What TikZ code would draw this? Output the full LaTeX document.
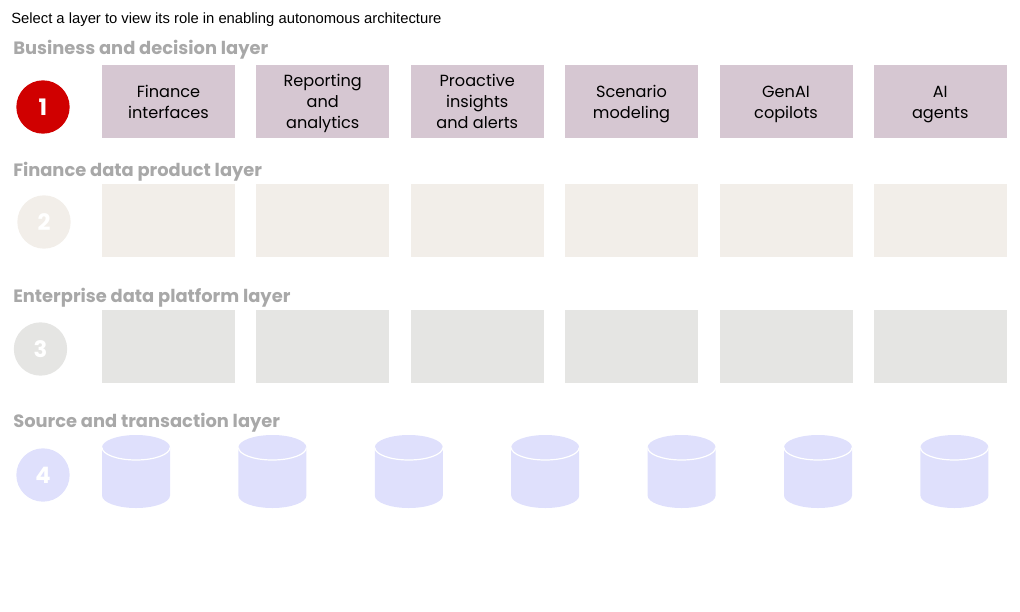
\documentclass[tikz,border=0pt]{standalone}
\usepackage{fontspec}
\setmainfont{Poppins}
\newfontfamily\introfont{Liberation Sans}
\definecolor{lyrmauve}{RGB}{214,199,210}
\definecolor{lyrsand}{RGB}{242,238,233}
\definecolor{lyrgrey}{RGB}{229,229,227}
\definecolor{lyrblue}{RGB}{223,224,252}
\definecolor{lyrred}{RGB}{208,0,0}
\definecolor{lyrhead}{RGB}{168,168,168}
\usetikzlibrary{positioning}
\newcommand{\lyrtop}{\rule{0pt}{12.8pt}}
\tikzset{
  headlbl/.style={anchor=base west, inner sep=0pt, text=lyrhead, font=\fontsize{13.4}{16}\selectfont\bfseries},
  numdot/.style={circle, minimum size=40pt, inner sep=0pt, text=white, font=\fontsize{17}{20}\selectfont\bfseries},
  lyrbox/.style={rectangle, minimum width=99.75pt, minimum height=54.75pt, inner sep=0pt, align=center,
    font=\fontsize{12.1}{15.7}\selectfont, execute at end node={\rule[-3.5pt]{0pt}{3.5pt}}},
}
\begin{document}
\begin{tikzpicture}[x=0.75pt, y=0.75pt]
\useasboundingbox (0,0) rectangle (1020,-611);
\node[anchor=base west, inner sep=0pt, font=\introfont\fontsize{11.1}{13}\selectfont] (intro) at (11,-23) {Select a layer to view its role in enabling autonomous architecture};
% layer headings
\node[headlbl] (head1) at (13,-54.5) {Business and decision layer};
\node[headlbl] (head2) at (13,-176) {Finance data product layer};
\node[headlbl] (head3) at (13,-302) {Enterprise data platform layer};
\node[headlbl] (head4) at (13,-427) {Source and transaction layer};
% numbers
\node[numdot, fill=lyrred] (num1) at (43,-107) {1};
\node[numdot, fill=lyrsand] (num2) at (44,-222) {2};
\node[numdot, fill=lyrgrey] (num3) at (40.5,-349) {3};
\node[numdot, fill=lyrblue] (num4) at (43,-475) {4};
% layer 1
\node[lyrbox, fill=lyrmauve] (biz1) at (168.5,-101.5) {\lyrtop Finance\\interfaces};
\node[lyrbox, fill=lyrmauve] (biz2) at (322.75,-101.5) {\lyrtop Reporting\\and\\analytics};
\node[lyrbox, fill=lyrmauve] (biz3) at (477.25,-101.5) {\lyrtop Proactive\\insights\\and alerts};
\node[lyrbox, fill=lyrmauve] (biz4) at (631.5,-101.5) {\lyrtop Scenario\\modeling};
\node[lyrbox, fill=lyrmauve] (biz5) at (786,-101.5) {\lyrtop GenAI\\copilots};
\node[lyrbox, fill=lyrmauve] (biz6) at (940.25,-101.5) {\lyrtop AI\\agents};
% layers 2 and 3, empty
\foreach \i/\cx in {1/168.5,2/322.75,3/477.25,4/631.5,5/786,6/940.25} {
  \node[lyrbox, fill=lyrsand] (prod\i) at (\cx,-220.5) {};
  \node[lyrbox, fill=lyrgrey] (plat\i) at (\cx,-346.5) {};
}
% layer 4, drums
\foreach \cx in {136,272.4,408.8,545.2,681.6,818,954.4} {
  \fill[lyrblue] (\cx-34,-447.5) arc[start angle=180, end angle=0, x radius=34, y radius=12.5]
    -- (\cx+34,-495.5) arc[start angle=360, end angle=180, x radius=34, y radius=12.5] -- cycle;
  \draw[white, line width=0.9pt] (\cx-34,-447.5) arc[start angle=180, end angle=360, x radius=34, y radius=12.5];
}
\end{tikzpicture}
\end{document}
